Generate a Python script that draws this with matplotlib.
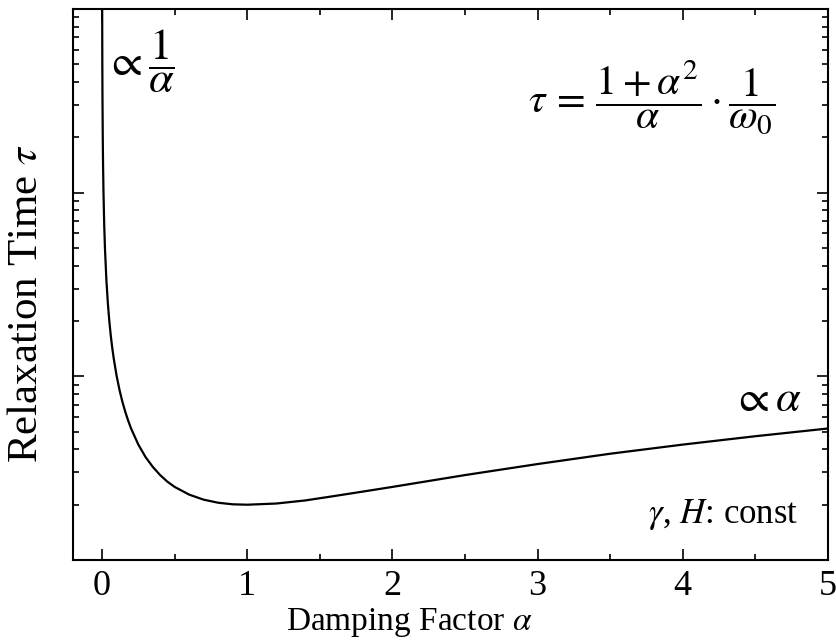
import matplotlib
matplotlib.use("Agg")
import matplotlib.pyplot as plt
from matplotlib.ticker import LogLocator, NullFormatter, MultipleLocator

# damping factor alpha and relaxation time tau
alpha = [0.001, 0.0015, 0.002, 0.003, 0.005, 0.007, 0.01, 0.015, 0.02, 0.03,
         0.04, 0.05, 0.06, 0.07, 0.08, 0.1, 0.12, 0.14, 0.16, 0.18, 0.2,
         0.25, 0.3, 0.35, 0.4, 0.45, 0.5, 0.6, 0.7, 0.8, 0.9, 1.0, 1.2,
         1.4, 1.6, 1.8, 2.0, 2.5, 3.0, 3.5, 4.0, 4.5, 5.0]
tau = [1000.0, 666.7, 500.0, 333.3, 200.0, 142.9, 100.0, 66.68, 50.02, 33.36,
       25.04, 20.05, 16.73, 14.36, 12.58, 10.10, 8.45, 7.28, 6.41, 5.74, 5.20,
       4.25, 3.63, 3.21, 2.90, 2.67, 2.50, 2.27, 2.13, 2.05, 2.01, 2.00, 2.03,
       2.11, 2.23, 2.36, 2.50, 2.90, 3.33, 3.79, 4.25, 4.72, 5.20]
xticks = [0, 1, 2, 3, 4, 5]

plt.rcParams["font.family"] = ["Liberation Serif", "DejaVu Serif"]
plt.rcParams["mathtext.fontset"] = "stix"

fig = plt.figure(figsize=(8.37, 6.41), dpi=100)
W, H = 837, 641
ax = fig.add_axes([73 / W, 1 - 560 / H, (828 - 73) / W, (560 - 9) / H])

ax.plot(alpha, tau, color="black", lw=1.6)
ax.set_yscale("log")
ax.set_xlim(-0.2, 5)
ax.set_ylim(1, 1000)

ax.set_xticks(xticks)
ax.xaxis.set_minor_locator(MultipleLocator(0.5))
ax.yaxis.set_major_locator(LogLocator(base=10))
ax.yaxis.set_minor_locator(LogLocator(base=10, subs=range(2, 10)))
ax.yaxis.set_major_formatter(NullFormatter())
ax.yaxis.set_minor_formatter(NullFormatter())
ax.tick_params(which="both", direction="in", top=True, right=True, width=1.2)
ax.tick_params(which="major", length=8, labelsize=26, pad=7)
ax.tick_params(which="minor", length=4)
for s in ax.spines.values():
    s.set_linewidth(1.5)

ax.set_xlabel(r"Damping Factor $\mathit{\alpha}$", fontsize=24, va="bottom")
ax.xaxis.set_label_coords(0.445, -(639 - 560) / 551)
ax.set_ylabel(r"Relaxation Time $\mathit{\tau}$", fontsize=31)
ax.yaxis.set_label_coords(-0.036, 0.465)

ax.text(0.042, 0.905, r"$\propto\dfrac{1}{\alpha}$", transform=ax.transAxes,
        fontsize=32, va="center", ha="left")
ax.text(0.603, 0.84,
        r"$\tau\,=\,\dfrac{1+\alpha^2}{\alpha}\cdot\dfrac{1}{\omega_0}$",
        transform=ax.transAxes, fontsize=30, va="center", ha="left")
ax.text(0.965, 0.29, r"$\propto\alpha$", transform=ax.transAxes,
        fontsize=32, va="center", ha="right")
ax.text(0.96, 0.083, r"$\gamma$, $H$: const", transform=ax.transAxes,
        fontsize=25, va="center", ha="right")

fig.savefig("out.png", dpi=100)
